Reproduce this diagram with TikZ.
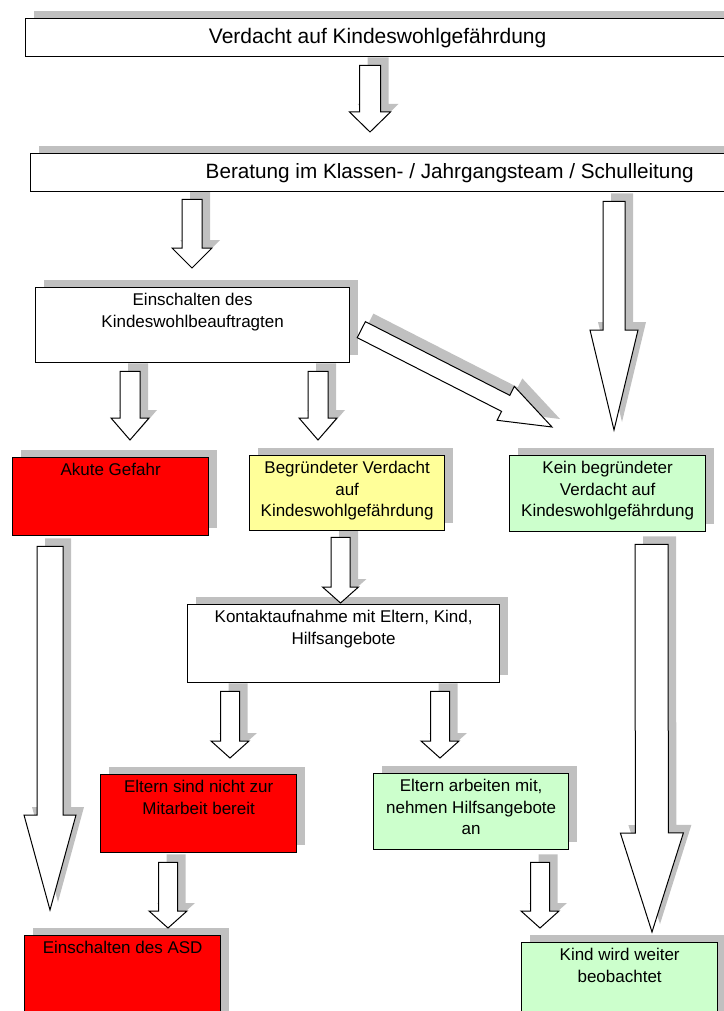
\documentclass[tikz,border=0pt]{standalone}
\usepackage{fontspec}
\setmainfont{Liberation Sans}
\usetikzlibrary{calc,shadows,backgrounds}

\definecolor{alarmrot}{HTML}{FF0000}
\definecolor{verdachtgelb}{HTML}{FFFF99}
\definecolor{entwarngruen}{HTML}{CCFFCC}
\definecolor{schatten}{HTML}{C0C0C0}

% hollow block arrow: tail, tip, half shaft, half head, head length
\newcommand{\blockarrow}[5]{%
  \coordinate (ba-tail) at #1;
  \coordinate (ba-tip) at #2;
  \coordinate (ba-base) at ($(ba-tip)!#5!(ba-tail)$);
  \path ($(ba-tail)!#3!90:(ba-tip)$) coordinate (ba-1)
        ($(ba-base)!#3!90:(ba-tip)$) coordinate (ba-2)
        ($(ba-base)!#4!90:(ba-tip)$) coordinate (ba-3)
        ($(ba-base)!#4!-90:(ba-tip)$) coordinate (ba-4)
        ($(ba-base)!#3!-90:(ba-tip)$) coordinate (ba-5)
        ($(ba-tail)!#3!-90:(ba-tip)$) coordinate (ba-6);
  \begin{pgfonlayer}{background}
    \fill[arrowshade] (ba-1) -- (ba-2) -- (ba-3) -- (ba-tip) -- (ba-4) -- (ba-5) -- (ba-6) -- cycle;
  \end{pgfonlayer}
  \filldraw[hollow] (ba-1) -- (ba-2) -- (ba-3) -- (ba-tip) -- (ba-4) -- (ba-5) -- (ba-6) -- cycle;
}

\begin{document}
\begin{tikzpicture}[
    x=1pt, y=-1pt,
    shade/.style={drop shadow={shadow xshift=8pt, shadow yshift=8pt, fill=schatten, opacity=1}},
    arrowshade/.style={fill=schatten, transform canvas={xshift=8pt, yshift=8pt}},
    box/.style={draw=black, line width=1.3pt, fill=white, anchor=north west, inner sep=0pt, shade},
    big/.style={font=\fontsize{21}{25}\selectfont},
    tag/.style={anchor=north, align=center, yshift=-3pt, font=\fontsize{17}{21.5}\selectfont},
    hollow/.style={draw=black, line width=1pt, fill=white, line join=miter}
]
\useasboundingbox (0,0) rectangle (723,1011);

\node[box, big, minimum width=704pt, minimum height=38pt] (verdacht) at (25,18) {Verdacht auf Kindeswohlgefährdung};
\node[box, big, font=\fontsize{20.7}{25}\selectfont, minimum width=838pt, minimum height=38pt] (beratung) at (30,153) {Beratung im Klassen- / Jahrgangsteam / Schulleitung};
\node[box, minimum width=314pt, minimum height=75pt, label={[tag]north:Einschalten des\\Kindeswohlbeauftragten}] (beauftragter) at (35,287) {};

\node[box, fill=alarmrot, minimum width=196pt, minimum height=78pt, label={[tag]north:Akute Gefahr}] (akut) at (12,457) {};
\node[box, fill=verdachtgelb, minimum width=195pt, minimum height=75pt, label={[tag]north:Begründeter Verdacht\\auf\\Kindeswohlgefährdung}] (begruendet) at (249,455) {};
\node[box, fill=entwarngruen, minimum width=196pt, minimum height=76pt, label={[tag]north:Kein begründeter\\Verdacht auf\\Kindeswohlgefährdung}] (keinverdacht) at (509,455) {};

\node[box, minimum width=312pt, minimum height=78pt, label={[tag]north:{Kontaktaufnahme mit Eltern, Kind,\\Hilfsangebote}}] (kontakt) at (187,604) {};
\node[box, fill=alarmrot, minimum width=196pt, minimum height=78pt, label={[tag]north:Eltern sind nicht zur\\Mitarbeit bereit}] (elternnein) at (100,774) {};
\node[box, fill=entwarngruen, minimum width=195pt, minimum height=76pt, label={[tag]north:{Eltern arbeiten mit,\\nehmen Hilfsangebote\\an}}] (elternja) at (373,773) {};

\node[box, fill=alarmrot, minimum width=196pt, minimum height=100pt, label={[tag]north:Einschalten des ASD}] (asd) at (24,935) {};
\node[box, fill=entwarngruen, minimum width=196pt, minimum height=100pt, label={[tag]north:Kind wird weiter\\beobachtet}] (beobachtet) at (521,942) {};

\blockarrow{($(verdacht.south west)+(345,8)$)}{($(beratung.north west)+(340,-21)$)}{10.5pt}{20.5pt}{20pt}
\blockarrow{($(beratung.south west)+(162,7)$)}{($(beauftragter.north west)+(157,-19)$)}{10pt}{20pt}{20pt}
\blockarrow{($(beratung.south west)+(584,9)$)}{($(keinverdacht.north west)+(105,-25)$)}{11pt}{24pt}{100pt}
\blockarrow{($(beauftragter.south west)+(95,8)$)}{($(akut.north west)+(118,-17)$)}{10pt}{19pt}{22pt}
\blockarrow{($(beauftragter.south west)+(283,8)$)}{($(begruendet.north west)+(69,-15)$)}{10pt}{19pt}{22pt}
\blockarrow{($(beauftragter.east)+(11,4.5)$)}{($(keinverdacht.north west)+(43,-28)$)}{9pt}{19pt}{52pt}
\blockarrow{($(akut.south west)+(38,10)$)}{($(asd.north west)+(26,-25)$)}{13pt}{26pt}{95pt}
\blockarrow{($(keinverdacht.south west)+(142.5,12)$)}{($(beobachtet.north west)+(131,-10)$)}{16.5pt}{31.5pt}{99pt}
\blockarrow{($(begruendet.south west)+(91.5,6)$)}{($(kontakt.north west)+(153.5,-1)$)}{9.5pt}{18pt}{16pt}
\blockarrow{($(kontakt.south west)+(43,8)$)}{($(elternnein.north west)+(130,-16)$)}{9.5pt}{19pt}{17pt}
\blockarrow{($(kontakt.south west)+(253,8)$)}{($(elternja.north west)+(67,-15)$)}{9.5pt}{19pt}{17pt}
\blockarrow{($(elternnein.south west)+(68,9)$)}{($(asd.north west)+(144,-7)$)}{9.5pt}{19pt}{17pt}
\blockarrow{($(elternja.south west)+(167,12)$)}{($(beobachtet.north west)+(19,-14)$)}{9.5pt}{19pt}{17pt}
\end{tikzpicture}
\end{document}
